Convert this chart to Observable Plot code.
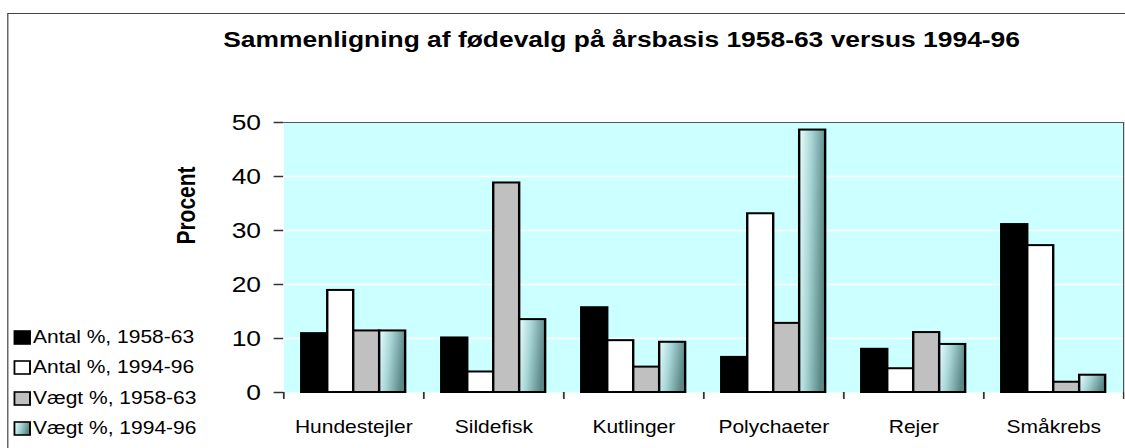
<!DOCTYPE html>
<html>
<head>
<meta charset="utf-8">
<script src="https://cdn.jsdelivr.net/npm/d3@7"></script>
<script src="https://cdn.jsdelivr.net/npm/@observablehq/plot@0.6"></script>
<style>
  html, body { margin: 0; padding: 0; background: #fff; overflow: hidden; }
  #wrap { position: relative; width: 937.5px; height: 448px; transform: scaleX(1.2); transform-origin: 0 0;
          font-family: "Liberation Sans", Arial, sans-serif; }
  #border { position: absolute; left: 5.8px; top: 13px; width: 1200px; height: 1000px; border: 1.5px solid #444; box-sizing: border-box; }
  #title { position: absolute; left: 0; width: 1036px; top: 29px; text-align: center; font-size: 22px; font-weight: bold; line-height: 22px; color: #000; white-space: nowrap; }
  #chart { position: absolute; left: 0; top: 0; }
  #legend { position: absolute; left: 10.5px; top: 0; }
  .lg { position: absolute; left: 0; height: 20px; display: flex; align-items: center; white-space: nowrap; font-size: 17.5px; color: #000; }
  .lg svg { margin-right: 2px; }
</style>
</head>
<body>
<svg width="0" height="0" style="position:absolute">
  <defs>
    <linearGradient id="tealGrad" x1="0" y1="0" x2="1" y2="0.25">
      <stop offset="0" stop-color="#eaffff"/>
      <stop offset="0.45" stop-color="#a9d6d6"/>
      <stop offset="1" stop-color="#5b8787"/>
    </linearGradient>
  </defs>
</svg>
<div id="wrap">
  <div id="border"></div>
  <div id="title">Sammenligning af fødevalg på årsbasis 1958-63 versus 1994-96</div>
  <div id="chart"></div>
  <div id="legend"></div>
</div>
<script>
const categories = ["Hundestejler", "Sildefisk", "Kutlinger", "Polychaeter", "Rejer", "Småkrebs"];
const series = ["Antal %, 1958-63", "Antal %, 1994-96", "Vægt %, 1958-63", "Vægt %, 1994-96"];
const antal1958 = [10.9, 10.1, 15.7, 6.5, 8.0, 31.1];
const antal1994 = [18.9, 3.8, 9.6, 33.1, 4.4, 27.2];
const vaegt1958 = [11.4, 38.8, 4.7, 12.8, 11.1, 1.9];
const vaegt1994 = [11.4, 13.5, 9.3, 48.6, 8.9, 3.2];
const yTicks = [0, 10, 20, 30, 40, 50];
const seriesFills = ["#000000", "#ffffff", "#c0c0c0", "url(#tealGrad)"];

const seriesValues = [antal1958, antal1994, vaegt1958, vaegt1994];
const data = categories.flatMap((c, i) => series.map((s, j) => ({category: c, series: s, value: seriesValues[j][i]})));

// within-category band (Excel-like gap between groups)
const inner = d3.scaleBand().domain(series).range([0, 1]).paddingInner(0).paddingOuter(0.695);
const catIndex = c => categories.indexOf(c);

const chart = Plot.plot({
  width: 937,
  height: 448,
  marginTop: 122,
  marginBottom: 56,
  marginLeft: 236,
  marginRight: 1,
  style: {background: "transparent", fontFamily: "'Liberation Sans', Arial, sans-serif", color: "#000"},
  x: {domain: [0, categories.length], axis: null},
  y: {domain: [0, 50], axis: null},
  color: {domain: series, range: seriesFills},
  marks: [
    Plot.frame({fill: "#ccffff", stroke: "none"}),
    Plot.ruleY(yTicks.slice(1, -1), {stroke: "#ffffff", strokeWidth: 1.3}),
    Plot.rectY(data, {
      x1: d => catIndex(d.category) + inner(d.series),
      x2: d => catIndex(d.category) + inner(d.series) + inner.bandwidth(),
      y: "value",
      fill: "series",
      stroke: "#000",
      strokeWidth: 2
    }),
    Plot.ruleY([50], {stroke: "#555", strokeWidth: 1.2}),
    Plot.ruleX([categories.length], {stroke: "#444", strokeWidth: 1.2}),
    Plot.axisY({ticks: yTicks, tickSize: 8, tickPadding: 11, fontSize: 22, stroke: "#333", strokeWidth: 1.5, line: true, label: null}),
    Plot.axisX({ticks: d3.range(categories.length + 1), tickSize: 7, tickFormat: () => "", stroke: "#333", strokeWidth: 1.5, line: true, label: null}),
    Plot.axisX({ticks: categories.map((c, i) => i + 0.5), tickSize: 0, tickPadding: 28, fontSize: 17.5,
                tickFormat: t => categories[Math.round(t - 0.5)], label: null}),
    Plot.text(["Procent"], {frameAnchor: "top-left", dx: -89, dy: 83, rotate: -90, fontSize: 21, fontWeight: "bold", textAnchor: "middle"})
  ]
});
document.getElementById("chart").appendChild(chart);

// legend
const legend = document.getElementById("legend");
series.forEach((s, i) => {
  const row = document.createElement("div");
  row.className = "lg";
  row.style.top = (327 + i * 30.5) + "px";
  row.innerHTML = `<svg width="15" height="15"><rect x="1" y="1" width="13" height="13" fill="${seriesFills[i]}" stroke="#000" stroke-width="1.6"/></svg><span>${s}</span>`;
  legend.appendChild(row);
});
</script>
</body>
</html>
